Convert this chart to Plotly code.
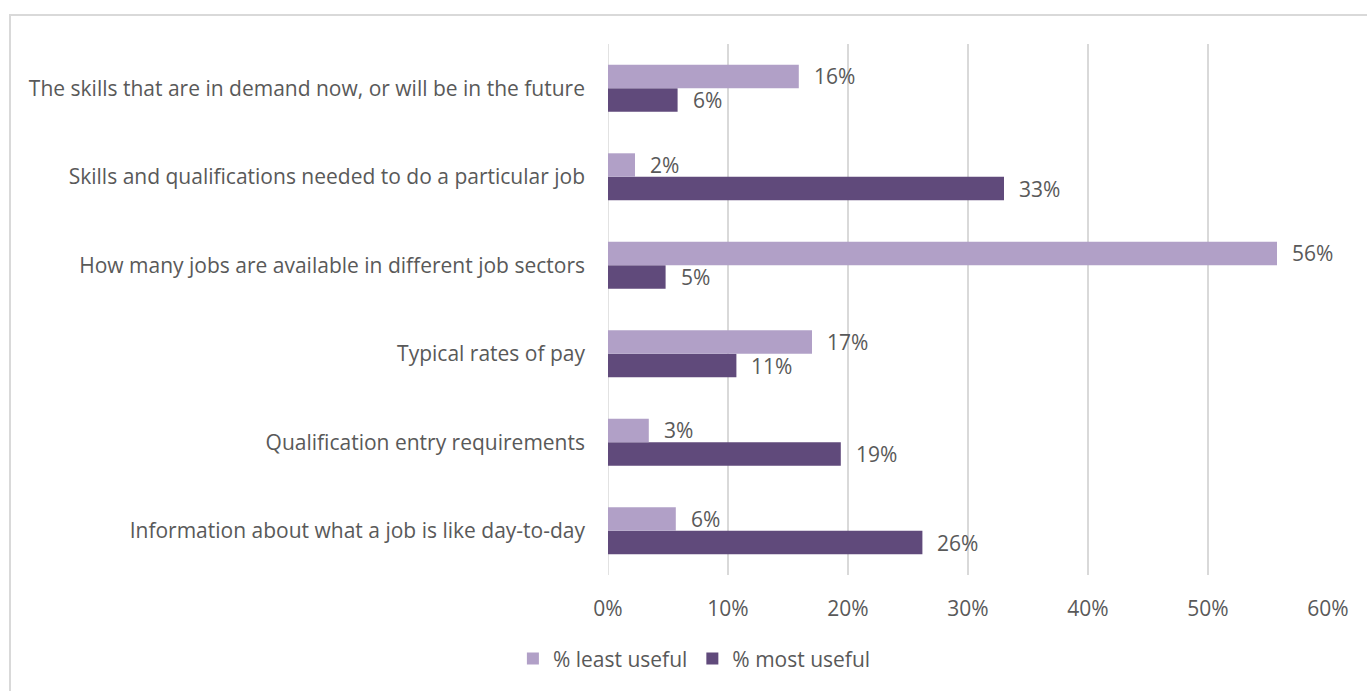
import plotly.graph_objects as go

categories = [
    "The skills that are in demand now, or will be in the future",
    "Skills and qualifications needed to do a particular job",
    "How many jobs are available in different job sectors",
    "Typical rates of pay",
    "Qualification entry requirements",
    "Information about what a job is like day-to-day",
]
least_useful = [0.159, 0.0225, 0.5575, 0.170, 0.034, 0.0565]
most_useful = [0.058, 0.330, 0.048, 0.107, 0.194, 0.262]
tick_values = [0, 0.1, 0.2, 0.3, 0.4, 0.5, 0.6]
tick_labels = ["0%", "10%", "20%", "30%", "40%", "50%", "60%"]

LIGHT = "#b1a0c7"
DARK = "#604a7b"
TEXT = "#595959"
FONT = "Open Sans"
SIZE = 21

fig = go.Figure()
# horizontal groups stack bottom-up, so the lower series goes in first
fig.add_trace(go.Bar(
    y=categories, x=most_useful, orientation="h", name="% most useful",
    marker=dict(color=DARK, line=dict(width=0)), hoverinfo="x+y",
))
fig.add_trace(go.Bar(
    y=categories, x=least_useful, orientation="h", name="% least useful",
    marker=dict(color=LIGHT, line=dict(width=0)), hoverinfo="x+y",
))

# value labels just right of each bar end
annotations = []
for i, cat in enumerate(categories):
    for vals, shift in ((least_useful, 11.8), (most_useful, -11.8)):
        annotations.append(dict(
            x=vals[i], y=cat, xref="x", yref="y",
            text=f"{round(vals[i] * 100)}%", showarrow=False,
            xanchor="left", yanchor="middle", xshift=13, yshift=shift,
            font=dict(family=FONT, size=SIZE, color=TEXT),
        ))

fig.update_layout(
    width=1367, height=691,
    margin=dict(l=608, r=39, t=44, b=114),
    paper_bgcolor="white", plot_bgcolor="white",
    barmode="group", bargap=0.47, bargroupgap=0,
    font=dict(family=FONT, size=SIZE, color=TEXT),
    showlegend=True,
    legend=dict(
        orientation="h", x=0.12, y=-0.158, xanchor="center", yanchor="middle",
        traceorder="reversed", font=dict(family=FONT, size=SIZE, color=TEXT),
        itemsizing="constant",
    ),
    xaxis=dict(
        range=[0, 0.6], tickvals=tick_values, ticktext=tick_labels,
        showgrid=True, gridcolor="#d9d9d9", gridwidth=1.5,
        zeroline=False, showline=False, ticks="", ticklabelstandoff=19,
        tickfont=dict(family=FONT, size=SIZE, color=TEXT),
    ),
    yaxis=dict(
        categoryorder="array", categoryarray=categories[::-1],
        range=[-0.5, 5.5],
        showgrid=False, zeroline=False, showline=False, ticks="",
        ticklabelstandoff=22,
        tickfont=dict(family=FONT, size=SIZE, color=TEXT),
    ),
    annotations=annotations,
    shapes=[
        # outer frame around the chart area
        dict(type="rect", xref="paper", yref="paper",
             x0=(10 - 608) / 720, x1=(1375 - 608) / 720,
             y0=(577 - 700) / 533, y1=(577 - 15) / 533,
             line=dict(color="#d9d9d9", width=2), layer="below"),
        # value axis baseline at 0%
        dict(type="line", xref="x", yref="paper", x0=0, x1=0, y0=0, y1=1,
             line=dict(color="#d9d9d9", width=1.5), layer="below"),
    ],
)

fig.write_html("out.html")
